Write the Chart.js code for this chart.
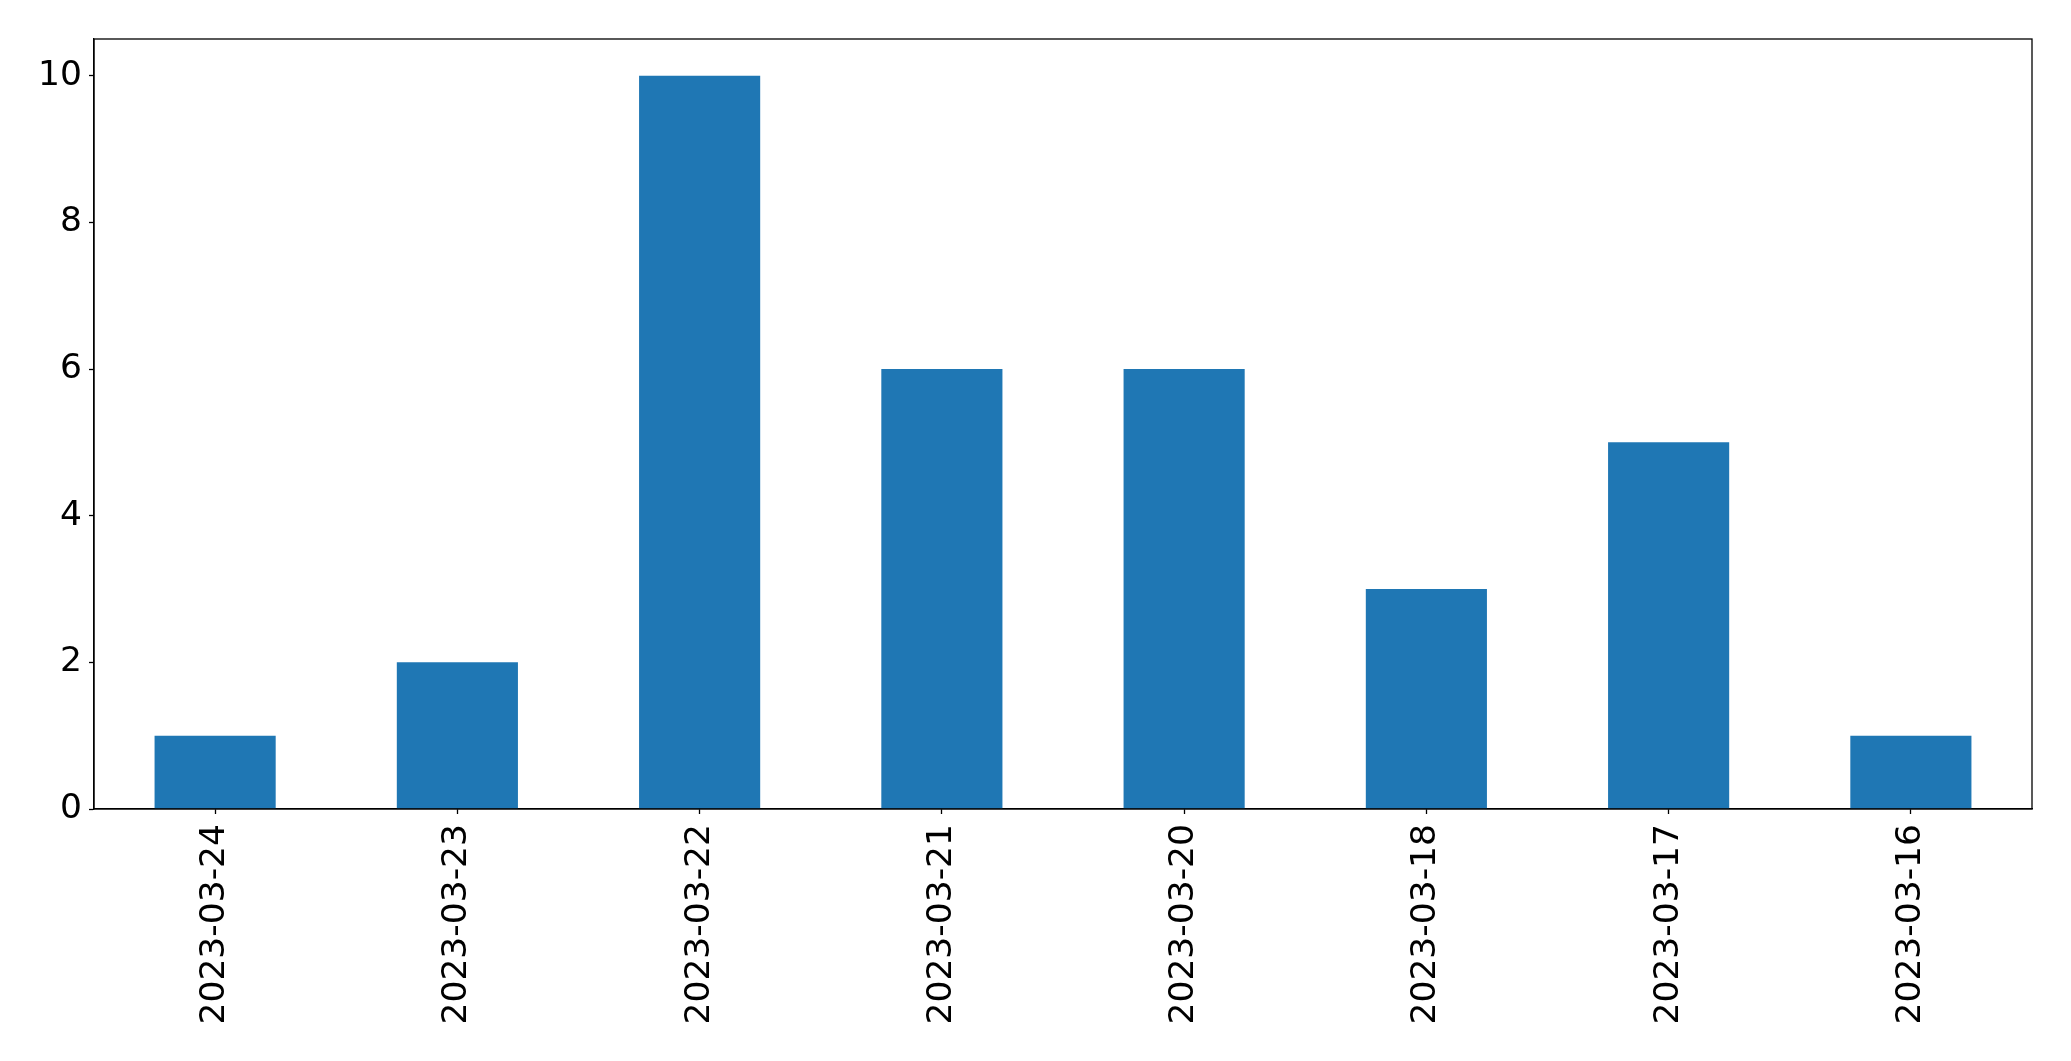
<!DOCTYPE html>
<html>
<head>
<meta charset="utf-8">
<script src="https://cdn.jsdelivr.net/npm/chart.js@4"></script>
<style>
  html, body { margin: 0; padding: 0; background: #fff; }
  canvas { display: block; }
</style>
</head>
<body>
<canvas id="barChart" width="2071" height="1061"></canvas>
<script>
const dates = ['2023-03-24', '2023-03-23', '2023-03-22', '2023-03-21', '2023-03-20', '2023-03-18', '2023-03-17', '2023-03-16'];
const counts = [1, 2, 10, 6, 6, 3, 5, 1];
const yTicks = [0, 2, 4, 6, 8, 10];

// draws the full axes box like matplotlib
const frame = {
    id: 'frame',
    afterDraw(chart) {
        const { ctx, chartArea: a } = chart;
        ctx.save();
        ctx.strokeStyle = '#000';
        ctx.lineWidth = 1.3;
        ctx.strokeRect(a.left, a.top, a.right - a.left, a.bottom - a.top);
        ctx.restore();
    }
};

const tickFont = { family: 'DejaVu Sans', size: 34.5 };

new Chart(document.getElementById('barChart'), {
    type: 'bar',
    data: {
        labels: dates,
        datasets: [{
            data: counts,
            backgroundColor: '#1f77b4',
            categoryPercentage: 1.0,
            barPercentage: 0.5
        }]
    },
    options: {
        responsive: false,
        devicePixelRatio: 1,
        animation: false,
        layout: { padding: { top: 39, right: 39, left: 0, bottom: 0 } },
        plugins: {
            legend: { display: false },
            tooltip: { enabled: false }
        },
        scales: {
            x: {
                grid: { offset: false, drawOnChartArea: false, tickLength: 5, tickColor: '#000', tickWidth: 1.3 },
                border: { color: '#000', width: 1.3 },
                ticks: { color: '#000', font: tickFont, minRotation: 90, maxRotation: 90, padding: 10, autoSkip: false },
                afterFit(scale) { scale.height = 252; }
            },
            y: {
                min: 0,
                max: 10.5,
                grid: { drawOnChartArea: false, tickLength: 5, tickColor: '#000', tickWidth: 1.3 },
                border: { color: '#000', width: 1.3 },
                ticks: { color: '#000', font: tickFont, padding: 7 },
                afterBuildTicks(scale) { scale.ticks = yTicks.map(v => ({ value: v })); },
                afterFit(scale) { scale.width = 94; }
            }
        }
    },
    plugins: [frame]
});
</script>
</body>
</html>
